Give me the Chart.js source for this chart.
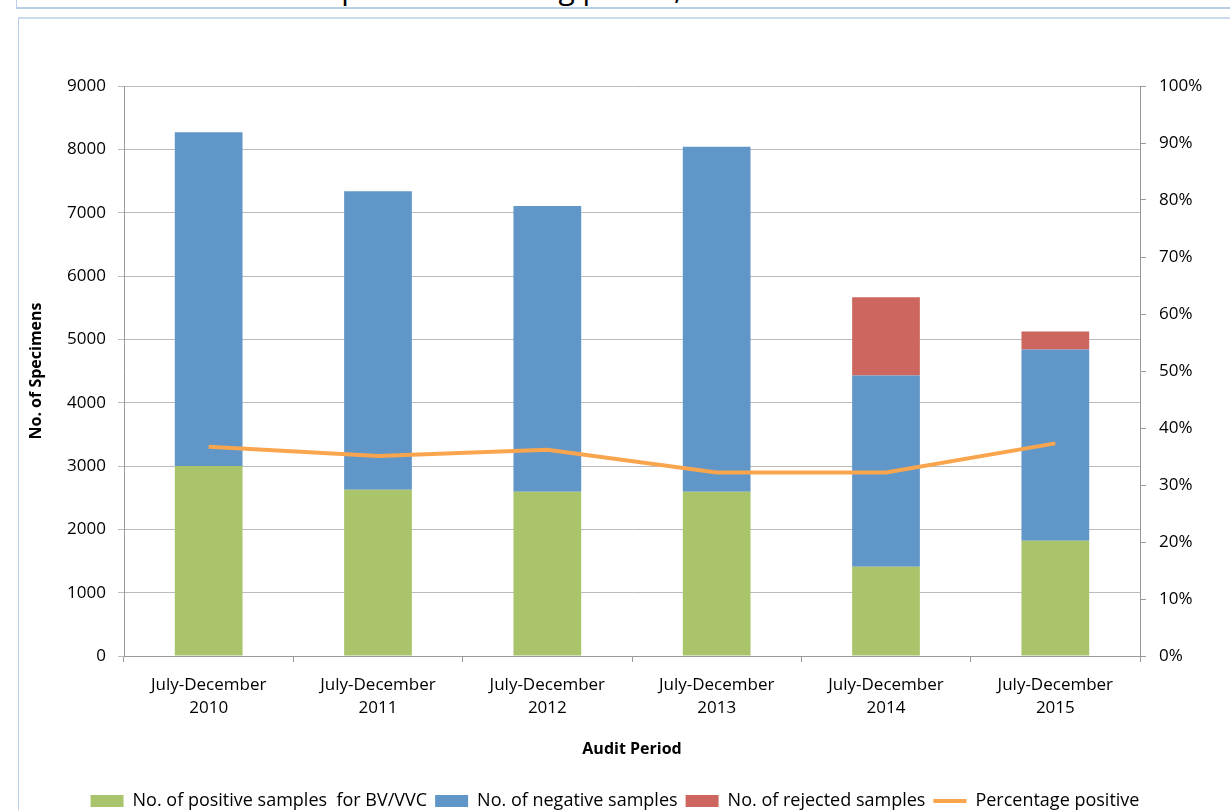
<!DOCTYPE html>
<html>
<head>
<meta charset="utf-8">
<script src="https://cdn.jsdelivr.net/npm/chart.js@4.4.0/dist/chart.umd.min.js"></script>
<style>
  body { margin: 0; background: #fff; width: 1230px; height: 810px; overflow: hidden; position: relative; }
  .frameTop { position: absolute; left: 16px; top: -2px; width: 1230px; height: 9px; border-left: 1px solid #b9cfe8; border-bottom: 2px solid #b9cfe8; overflow: hidden; }
  .frameTop span { position: absolute; left: 150px; top: -31px; font: 30px 'Open Sans', sans-serif; color: #000; white-space: nowrap; }
  .frameMain { position: absolute; left: 18px; top: 17px; width: 1230px; height: 810px; border-left: 1px solid #b9cfe8; border-top: 2px solid #c9daee; }
  #chart { position: absolute; left: 0; top: 0; }
</style>
</head>
<body>
<div class="frameTop"><span>Number of specimens during period, 2010-2015</span></div>
<div class="frameMain"></div>
<canvas id="chart" width="1230" height="820"></canvas>
<script>

// DATA
const periods = [
    ['July-December', '2010'],
    ['July-December', '2011'],
    ['July-December', '2012'],
    ['July-December', '2013'],
    ['July-December', '2014'],
    ['July-December', '2015']
];

const positiveSamples = [3000, 2625, 2595, 2595, 1410, 1820];
const negativeSamples = [5270, 4715, 4510, 5445, 3020, 3020];
const rejectedSamples = [0, 0, 0, 0, 1235, 285];
const percentPositive = [36.7, 35.1, 36.2, 32.2, 32.2, 37.3];

const FONT = "'Open Sans', sans-serif";

const ctx = document.getElementById('chart').getContext('2d');

new Chart(ctx, {

    data: {

        labels: periods,

        datasets: [
            {
                type: 'bar',
                label: 'No. of positive samples  for BV/VVC',
                data: positiveSamples,
                backgroundColor: '#aac46b',
                yAxisID: 'y',
                order: 1
            },
            {
                type: 'bar',
                label: 'No. of negative samples',
                data: negativeSamples,
                backgroundColor: '#6196c9',
                yAxisID: 'y',
                order: 1
            },
            {
                type: 'bar',
                label: 'No. of rejected samples',
                data: rejectedSamples,
                backgroundColor: '#cc665e',
                yAxisID: 'y',
                order: 1
            },
            {
                type: 'line',
                label: 'Percentage positive',
                data: percentPositive,
                borderColor: '#f9a54e',
                backgroundColor: '#f9a54e',
                borderWidth: 4,
                pointRadius: 0,
                tension: 0,
                yAxisID: 'y1',
                order: 0
            }
        ]
    },

    options: {

        responsive: false,
        animation: false,
        devicePixelRatio: 1,

        datasets: {
            bar: {
                barPercentage: 0.4,
                categoryPercentage: 1
            }
        },

        layout: {
            padding: { top: 86, left: 0, right: 0, bottom: 0 }
        },

        plugins: {

            legend: {
                position: 'bottom',
                labels: {
                    font: { family: FONT, size: 18 },
                    color: '#000',
                    boxWidth: 33,
                    boxHeight: 12,
                    usePointStyle: true,
                    pointStyleWidth: 33,
                    padding: 8,
                    sort: (a, b) => a.datasetIndex - b.datasetIndex,
                    generateLabels(chart) {
                        const items = Chart.defaults.plugins.legend.labels.generateLabels(chart);
                        items.forEach((item) => {
                            const ds = chart.data.datasets[item.datasetIndex];
                            if (ds.type === 'line') {
                                item.pointStyle = 'line';
                                item.strokeStyle = ds.borderColor;
                                item.lineWidth = 4;
                            } else {
                                item.pointStyle = 'rect';
                                item.lineWidth = 0;
                            }
                        });
                        return items;
                    }
                }
            },

            tooltip: { enabled: false }
        },

        scales: {

            x: {
                stacked: true,
                grid: {
                    offset: true,
                    drawOnChartArea: false,
                    tickLength: 6,
                    color: '#999'
                },
                border: { color: '#999' },
                ticks: {
                    font: { family: FONT, size: 17, lineHeight: 1.35 },
                    color: '#000',
                    padding: 12,
                    maxRotation: 0
                },
                title: {
                    display: true,
                    text: 'Audit Period',
                    font: { family: FONT, size: 16, weight: 'bold' },
                    color: '#000',
                    padding: { top: 0, bottom: 25 }
                },
                afterFit(scale) {
                    scale.height = 128;
                }
            },

            y: {
                stacked: true,
                position: 'left',
                min: 0,
                max: 9000,
                ticks: {
                    stepSize: 1000,
                    font: { family: FONT, size: 17 },
                    color: '#000',
                    padding: 12,
                    callback: (value) => String(value)
                },
                grid: {
                    color: '#bbb',
                    tickLength: 6
                },
                border: { color: '#999' },
                title: {
                    display: true,
                    text: 'No. of Specimens',
                    font: { family: FONT, size: 16, weight: 'bold' },
                    color: '#000',
                    padding: { top: 27, bottom: 0 }
                },
                afterFit(scale) {
                    scale.width = 124;
                }
            },

            y1: {
                position: 'right',
                min: 0,
                max: 100,
                ticks: {
                    stepSize: 10,
                    font: { family: FONT, size: 17 },
                    color: '#000',
                    padding: 13,
                    callback: (value) => value + '%'
                },
                grid: {
                    drawOnChartArea: false,
                    color: '#999',
                    tickLength: 6
                },
                border: { color: '#999' },
                afterFit(scale) {
                    scale.width = 90;
                }
            }
        }
    }
});
</script>
</body>
</html>
